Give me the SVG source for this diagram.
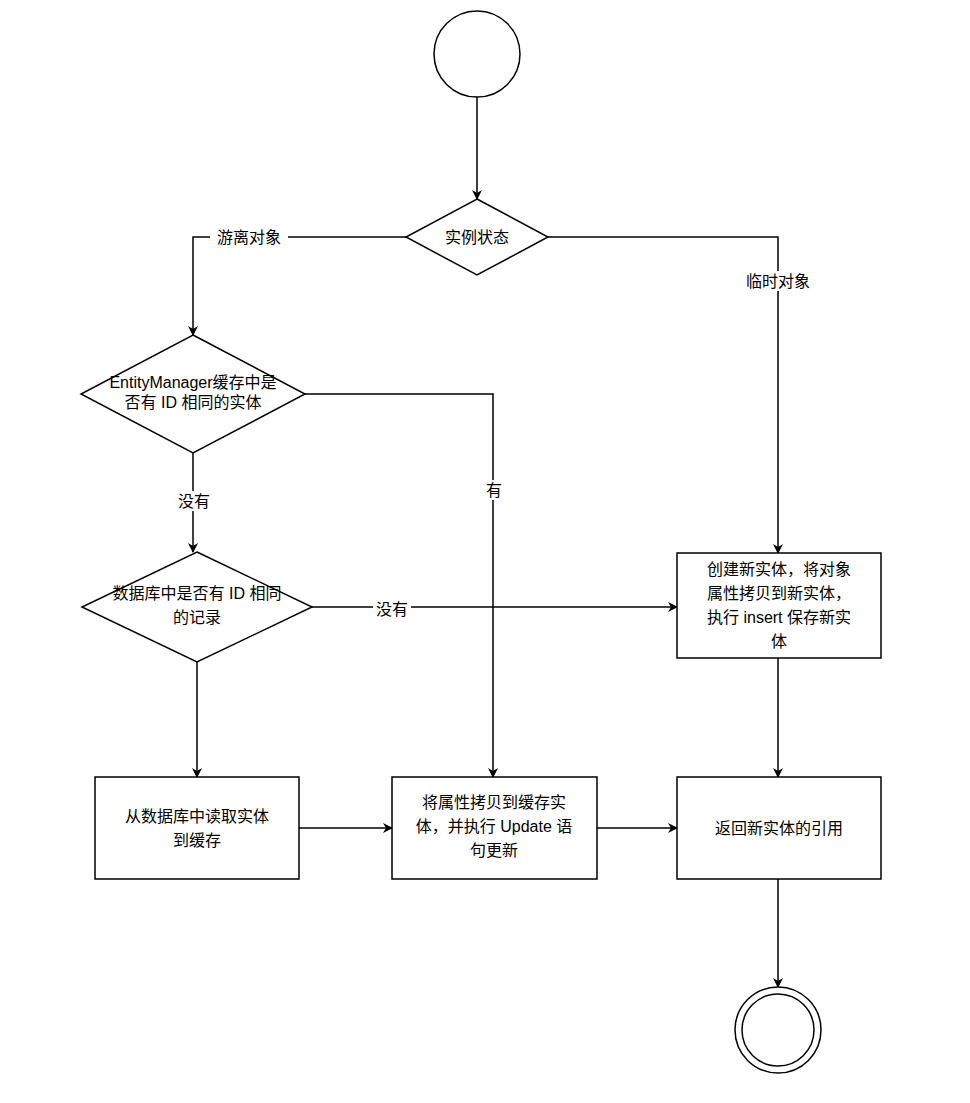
<svg xmlns="http://www.w3.org/2000/svg" width="970" height="1103" viewBox="0 0 970 1103">
<defs>
<marker id="arr" viewBox="0 0 10 10" refX="9" refY="5" markerWidth="10" markerHeight="10" markerUnits="userSpaceOnUse" orient="auto"><path d="M0,0 L10,5 L0,10 L3,5 Z" fill="#000"/></marker>
<style>
.s{fill:#fff;stroke:#000;stroke-width:1.5}
.c{fill:none;stroke:#000;stroke-width:1.5;marker-end:url(#arr)}
text{font-family:"Liberation Sans","Noto Sans CJK SC",sans-serif;font-size:16px;text-anchor:middle;fill:#000}
.l{fill:#fff}
</style>
</defs>
<rect width="970" height="1103" fill="#fff"/>
<g id="connectors">
<path class="c" d="M477,97 V199"/>
<path class="c" d="M406,237 H193 V335"/>
<path class="c" d="M548,237 H778 V553"/>
<path class="c" d="M305,394 H493 V777"/>
<path class="c" d="M193,453 V552"/>
<path class="c" d="M312,607 H677"/>
<path class="c" d="M197,662 V777"/>
<path class="c" d="M299,828 H392"/>
<path class="c" d="M597,828 H677"/>
<path class="c" d="M778,658 V777"/>
<path class="c" d="M778,879 V987"/>
<rect class="l" x="210" y="227" width="78" height="20"/><text x="249" y="243">游离对象</text>
<rect class="l" x="739" y="271" width="78" height="20"/><text x="778" y="287">临时对象</text>
<rect class="l" x="484" y="480" width="20" height="20"/><text x="494" y="496">有</text>
<rect class="l" x="175" y="491" width="38" height="20"/><text x="194" y="507">没有</text>
<rect class="l" x="373" y="599" width="38" height="20"/><text x="392" y="615">没有</text>
</g>
<g id="start"><circle class="s" cx="477" cy="54" r="43"/></g>
<g id="state"><path class="s" d="M477,199 L548,237 L477,275 L406,237 Z"/><text x="477" y="243">实例状态</text></g>
<g id="cache"><path class="s" d="M193,335 L305,394 L193,453 L81,394 Z"/><text x="193" y="388">EntityManager缓存中是</text><text x="193" y="408">否有 ID 相同的实体</text></g>
<g id="db"><path class="s" d="M197,552 L312,607 L197,662 L82,607 Z"/><text x="197" y="599">数据库中是否有 ID 相同</text><text x="197" y="623">的记录</text></g>
<g id="read"><rect class="s" x="95" y="777" width="204" height="102"/><text x="197" y="822">从数据库中读取实体</text><text x="197" y="846">到缓存</text></g>
<g id="update"><rect class="s" x="392" y="777" width="205" height="102"/><text x="494" y="808">将属性拷贝到缓存实</text><text x="494" y="832">体，并执行 Update 语</text><text x="494" y="856">句更新</text></g>
<g id="create"><rect class="s" x="677" y="553" width="204" height="105"/><text x="779" y="575">创建新实体，将对象</text><text x="779" y="599">属性拷贝到新实体，</text><text x="779" y="623">执行 insert 保存新实</text><text x="779" y="647">体</text></g>
<g id="ret"><rect class="s" x="677" y="777" width="204" height="102"/><text x="779" y="834">返回新实体的引用</text></g>
<g id="end"><circle class="s" cx="778" cy="1030" r="43"/><circle class="s" cx="778" cy="1030" r="36"/></g>
</svg>
